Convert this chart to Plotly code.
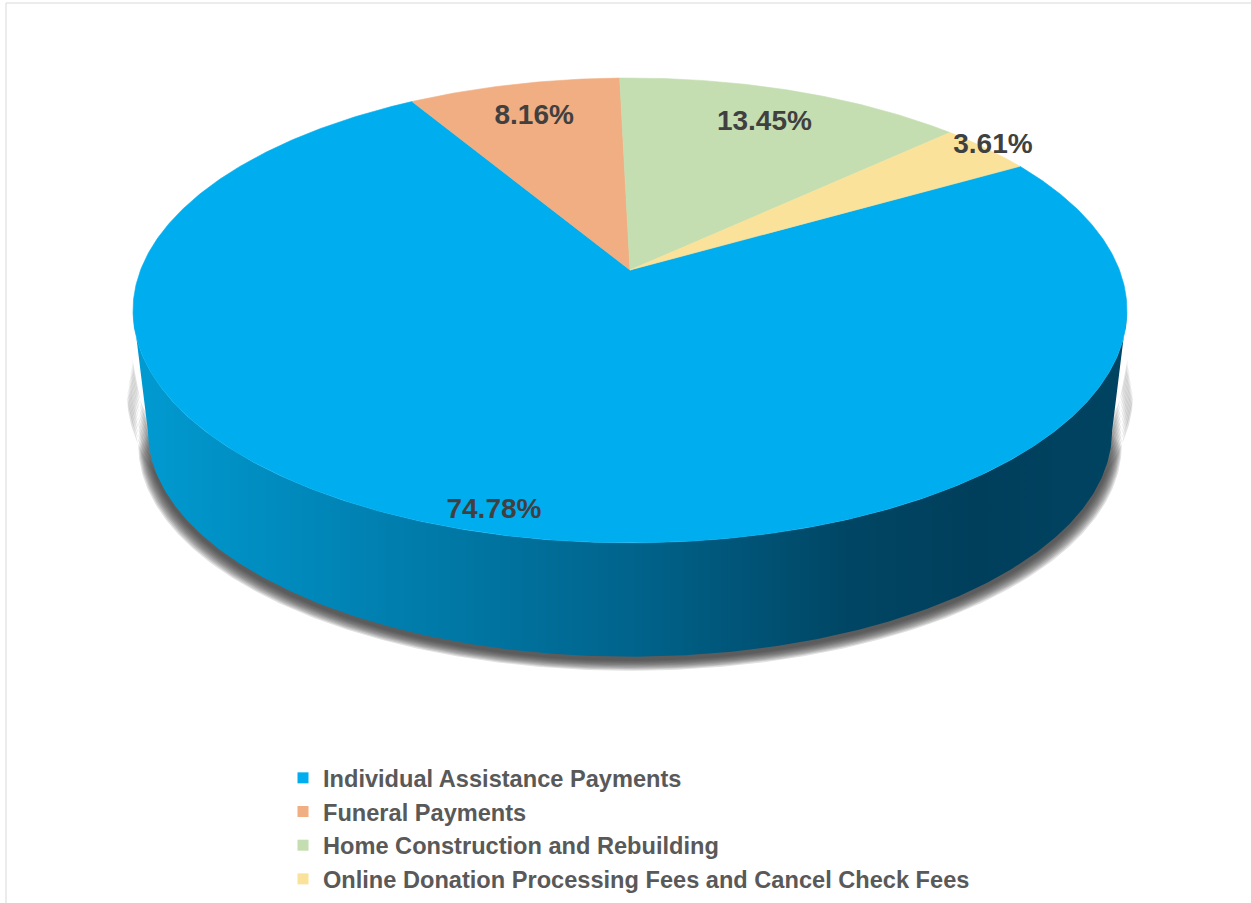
import numpy as np
import plotly.graph_objects as go

# ---------------- data ----------------
categories = [
    "Individual Assistance Payments",
    "Funeral Payments",
    "Home Construction and Rebuilding",
    "Online Donation Processing Fees and Cancel Check Fees",
]
shares = [74.78, 8.16, 13.45, 3.61]
value_labels = ["74.78%", "8.16%", "13.45%", "3.61%"]

# ---------------- style ----------------
colors = ["#00AEEF", "#F1AE82", "#C5DEB1", "#FAE29A"]
label_radius = [0.93, 0.8, 0.8, 1.02]

W, H = 1251, 903
CX, CY = 630.0, 270.0      # projected pie centre (pixels)
SX, SQ = 489.4, 225.4      # horizontal / vertical projection scale
K = 0.174                  # perspective strength
START = 60.0               # first slice angle (deg, clockwise from 12 o'clock)
BOT_SCALE = 0.97
BOT_DY = 122.0


def proj(theta_deg, r=1.0, scale=1.0, dy=0.0):
    t = np.radians(theta_deg)
    X = r * np.sin(t)
    Z = r * np.cos(t)
    den = 1 + K * Z
    return CX + scale * SX * X / den, CY + dy - scale * SQ * Z / den


fig = go.Figure()

# ---------- side wall geometry ----------
th_s = np.degrees(np.arccos(-K))
arc = np.linspace(th_s, 360 - th_s, 300)
tx, ty = proj(arc)
bx, by = proj(arc[::-1], scale=BOT_SCALE, dy=BOT_DY)
side_x = np.concatenate([tx, bx, tx[:1]])
side_y = np.concatenate([ty, by, ty[:1]])

# ---------- shadow (blurred by layering) ----------
NL = 10
for i in range(NL):
    grow = (NL - i)          # outer layers first, larger
    ex = 1 + 0.002 * grow
    sx_top = CX + (tx - CX) * (1 + 0.0012 * grow)
    sy_top = ty + 45 + 4 * grow
    sx_bot = CX + (bx - CX) * ex
    sy_bot = by + 3 + 1.1 * grow
    sx = np.concatenate([sx_top, sx_bot, sx_top[:1]])
    sy = np.concatenate([sy_top, sy_bot, sy_top[:1]])
    fig.add_trace(go.Scatter(
        x=sx, y=sy, mode="lines", fill="toself",
        fillcolor="rgba(55,55,55,0.15)", line=dict(width=0),
        hoverinfo="skip", showlegend=False))

# ---------- side wall ----------
fig.add_trace(go.Scatter(
    x=side_x, y=side_y, mode="lines", fill="toself",
    line=dict(width=0, color="rgba(0,0,0,0)"),
    fillgradient=dict(
        type="horizontal",
        colorscale=[
            [0.0, "rgb(0,155,210)"],
            [0.25, "rgb(0,128,176)"],
            [0.5, "rgb(0,100,140)"],
            [0.72, "rgb(0,70,100)"],
            [0.85, "rgb(0,63,92)"],
            [1.0, "rgb(0,68,98)"],
        ],
    ),
    hoverinfo="skip", showlegend=False))

# ---------- top face slices ----------
bounds = START + 360.0 * np.concatenate([[0], np.cumsum(shares)]) / sum(shares)
for i, cat in enumerate(categories):
    a = np.linspace(bounds[i], bounds[i + 1], max(int((bounds[i + 1] - bounds[i]) * 2), 4))
    ax, ay = proj(a)
    px = np.concatenate([[CX], ax, [CX]])
    py = np.concatenate([[CY], ay, [CY]])
    fig.add_trace(go.Scatter(
        x=px, y=py, mode="lines", fill="toself", fillcolor=colors[i],
        line=dict(width=0.6, color=colors[i]),
        hoverinfo="skip", showlegend=False))

# ---------- data labels ----------
mids = (bounds[:-1] + bounds[1:]) / 2
lx, ly = [], []
for i in range(len(categories)):
    x, y = proj(mids[i], r=label_radius[i])
    lx.append(x)
    ly.append(y)
fig.add_trace(go.Scatter(
    x=lx, y=ly, mode="text", text=value_labels,
    textposition="middle center",
    textfont=dict(family="Liberation Sans, Arial", size=28, color="#404040", weight="bold"),
    hoverinfo="skip", showlegend=False))

# ---------- legend entries ----------
for i, cat in enumerate(categories):
    fig.add_trace(go.Scatter(
        x=[None], y=[None], mode="markers", name=cat,
        marker=dict(symbol="square", size=11, color=colors[i]),
        showlegend=True))

fig.add_shape(type="rect", x0=6, y0=3, x1=W + 20, y1=H + 20,
              line=dict(color="#D9D9D9", width=1), layer="below")

fig.update_layout(
    width=W, height=H,
    margin=dict(l=0, r=0, t=0, b=0),
    paper_bgcolor="white", plot_bgcolor="white",
    xaxis=dict(range=[0, W], visible=False, fixedrange=True),
    yaxis=dict(range=[H, 0], visible=False, fixedrange=True),
    showlegend=True,
    legend=dict(
        x=283 / W, y=1 - 756 / H, xanchor="left", yanchor="top",
        font=dict(family="Liberation Sans, Arial", size=23.6, color="#595959", weight="bold"),
        bgcolor="rgba(0,0,0,0)", itemclick=False, itemdoubleclick=False,
        tracegroupgap=0,
    ),
    hovermode=False,
)

fig.write_html("out.html")
